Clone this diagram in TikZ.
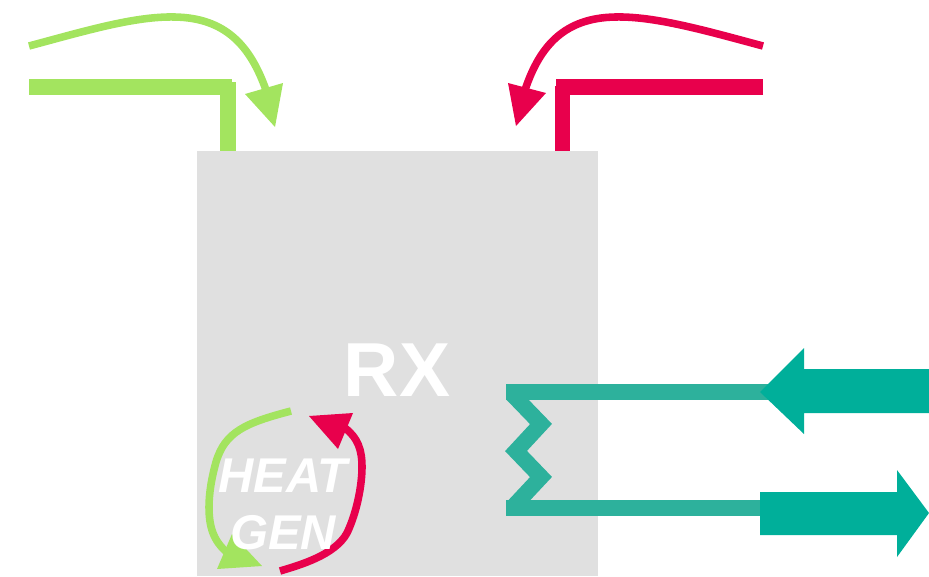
\documentclass[tikz,border=0pt]{standalone}
\usepackage{fontspec}
\setmainfont{Liberation Sans}
\usepackage{tikz}
\definecolor{feedgreen}{HTML}{A3E45F}
\definecolor{feedred}{HTML}{E8004C}
\definecolor{coilteal}{HTML}{2DB19C}
\definecolor{flowteal}{HTML}{00AF9A}
\definecolor{boxgray}{HTML}{E0E0E0}
\tikzset{
  pipe/.style={line width=9.07pt},
  curveline/.style={line width=4.3pt},
  biglabel/.style={white,font=\bfseries\fontsize{43.6}{46}\selectfont,inner sep=0pt,anchor=base},
  heatlabel/.style={white,font=\bfseries\itshape\fontsize{27.8}{30}\selectfont,inner sep=0pt,anchor=base}
}
\begin{document}
\begin{tikzpicture}[x=0.02cm,y=-0.02cm]
            \useasboundingbox (0,0) rectangle (929,576);
            \coordinate (boxa) at (197,151);
            \coordinate (boxb) at (598,576);
            \fill[boxgray] (boxa) rectangle (boxb);
            % feed pipes
            \coordinate (g1) at (29,87);
            \coordinate (g2) at (232,87);
            \coordinate (g3) at (228,82);
            \coordinate (g4) at (228,151);
            \coordinate (r1) at (763,87);
            \coordinate (r2) at (556,87);
            \coordinate (r3) at (562.5,86);
            \coordinate (r4) at (562.5,151);
            \draw[pipe,feedgreen] (g1) -- (g2);
            \draw[pipe,feedgreen] (g3) -- (g4);
            \draw[pipe,feedred] (r1) -- (r2);
            \draw[pipe,feedred] (r3) -- (r4);
            % feed arrows
            \draw[curveline,feedgreen] (29,46) .. controls (85,31) and (135,16) .. (175,17) .. controls (225,18) and (250,45) .. (266,90);
            \fill[feedgreen] (245,94) -- (283,83) -- (275,127) -- cycle;
            \draw[curveline,feedred] (763,46) .. controls (707,31) and (655,16) .. (615,17) .. controls (565,18) and (540,45) .. (525,90);
            \fill[feedred] (508,83) -- (546,93) -- (516,126) -- cycle;
            % coil
            \coordinate (c1) at (506,392);
            \coordinate (c2) at (770,392);
            \coordinate (c3) at (506,508);
            \coordinate (c4) at (770,508);
            \draw[pipe,coilteal] (c1) -- (c2);
            \draw[pipe,coilteal] (c3) -- (c4);
            \draw[pipe,coilteal,miter limit=10] (512,394) -- (541,424) -- (516,451) -- (541,477) -- (512,508);
            % flow arrows
            \fill[flowteal] (760,392) -- (804,348) -- (804,369) -- (929,369) -- (929,413) -- (804,413) -- (804,434) -- cycle;
            \fill[flowteal] (760,492) -- (897,492) -- (897,470) -- (929,513) -- (897,557) -- (897,535) -- (760,535) -- cycle;
            % heat loop
            \draw[curveline,feedgreen] (291,411) .. controls (245,423) and (225,432) .. (216,462) .. controls (211,480) and (209,495) .. (209,507) .. controls (209,530) and (215,543) .. (230,555);
            \fill[feedgreen] (232,534) -- (217,569) -- (262,566) -- cycle;
            \draw[curveline,feedred] (280,571) .. controls (300,565) and (335,555) .. (347,533) .. controls (357,512) and (362,485) .. (362,467) .. controls (362,450) and (358,438) .. (345,428);
            \fill[feedred] (309,416) -- (353,413) -- (338,449) -- cycle;
            % labels
            \node[biglabel] (rx) at (397,396) {RX};
            \node[heatlabel] (heat) at (283,492) {HEAT};
            \node[heatlabel] (gen) at (283,549) {GEN};
          \end{tikzpicture}
\end{document}
